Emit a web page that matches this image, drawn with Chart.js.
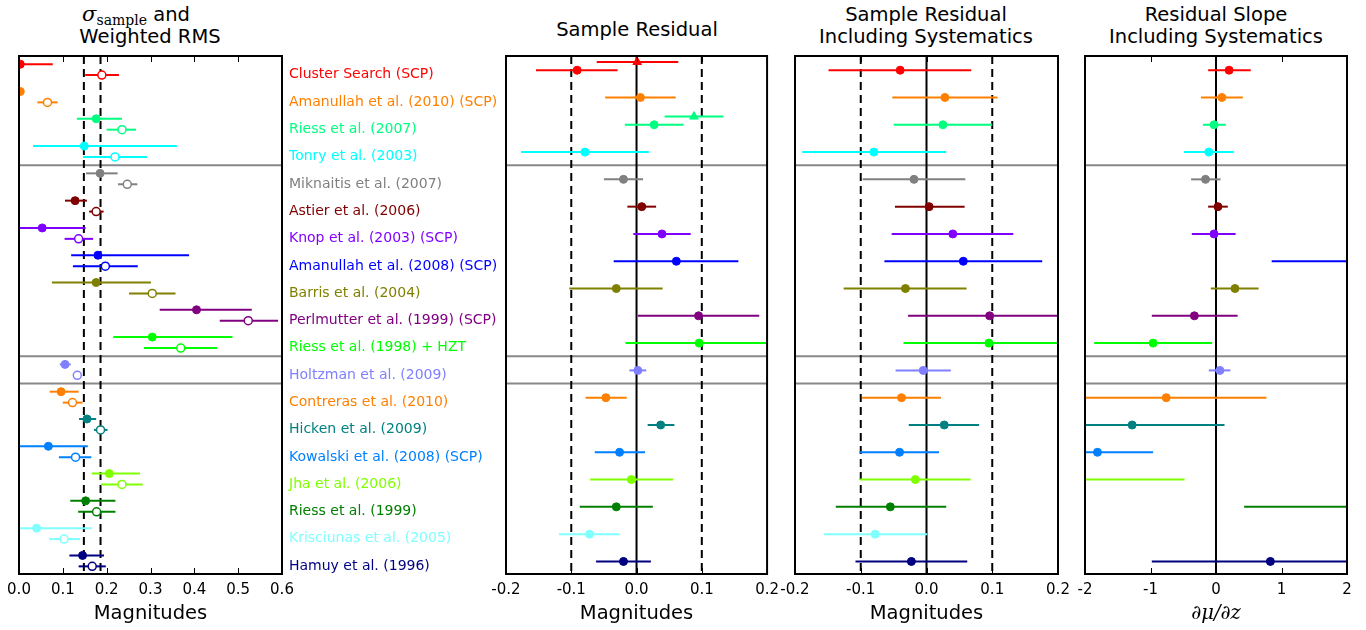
<!DOCTYPE html>
<html>
<head>
<meta charset="utf-8">
<script src="https://cdn.jsdelivr.net/npm/chart.js@4.4.1/dist/chart.umd.min.js"></script>
<style>
  body { margin: 0; background: #fff; width: 1366px; height: 630px; position: relative; overflow: hidden; font-family: 'DejaVu Sans', sans-serif; }
  canvas { position: absolute; top: 0; }
  .ttl { position: absolute; width: 300px; font-size: 19.5px; line-height: 22px; text-align: center; color: #000; white-space: nowrap; }
  .m { font-family: 'DejaVu Serif', serif; font-style: italic; font-size: 21px; }
  .sub { font-family: 'DejaVu Serif', serif; font-size: 14px; position: relative; top: 4px; }
</style>
</head>
<body>
<div class="ttl" style="left:-14px;top:3px"><span class="m">σ</span><span class="sub">sample</span> and</div>
<div class="ttl" style="left:0px;top:26px">Weighted RMS</div>
<div class="ttl" style="left:487px;top:19px">Sample Residual</div>
<div class="ttl" style="left:776px;top:4px">Sample Residual</div>
<div class="ttl" style="left:776px;top:26px">Including Systematics</div>
<div class="ttl" style="left:1066px;top:4px">Residual Slope</div>
<div class="ttl" style="left:1066px;top:26px">Including Systematics</div>

<canvas id="p1" width="510" height="630" style="left:0px"></canvas>
<canvas id="p2" width="310" height="630" style="left:476px"></canvas>
<canvas id="p3" width="310" height="630" style="left:770px"></canvas>
<canvas id="p4" width="306" height="630" style="left:1060px"></canvas>

<script>
// surveys, top to bottom
const surveys = [
  'Cluster Search (SCP)', 'Amanullah et al. (2010) (SCP)', 'Riess et al. (2007)', 'Tonry et al. (2003)',
  'Miknaitis et al. (2007)', 'Astier et al. (2006)', 'Knop et al. (2003) (SCP)', 'Amanullah et al. (2008) (SCP)',
  'Barris et al. (2004)', 'Perlmutter et al. (1999) (SCP)', 'Riess et al. (1998) + HZT',
  'Holtzman et al. (2009)',
  'Contreras et al. (2010)', 'Hicken et al. (2009)', 'Kowalski et al. (2008) (SCP)', 'Jha et al. (2006)',
  'Riess et al. (1999)', 'Krisciunas et al. (2005)', 'Hamuy et al. (1996)'
];
const colors = [
  '#ff0000', '#ff8000', '#00ff80', '#00ffff',
  '#808080', '#800000', '#8000ff', '#0000ff',
  '#808000', '#800080', '#00ff00',
  '#8080ff',
  '#ff8000', '#008080', '#0080ff', '#80ff00',
  '#008000', '#80ffff', '#000080'
];
const separators = [3.7, 10.7, 11.7];

// panel 1: sigma_sample (filled) and weighted RMS (open)
const sigmaVal = [0.003, 0.003, 0.176, 0.149, 0.185, 0.128, 0.053, 0.180, 0.176, 0.405, 0.304, 0.105, 0.096, 0.155, 0.067, 0.206, 0.152, 0.040, 0.145];
const sigmaLo  = [0.000, 0.003, 0.132, 0.032, 0.153, 0.105, -0.02, 0.119, 0.075, 0.321, 0.215, 0.093, 0.070, 0.137, 0.000, 0.166, 0.117, 0.000, 0.115];
const sigmaHi  = [0.077, 0.003, 0.235, 0.360, 0.225, 0.155, 0.152, 0.388, 0.301, 0.531, 0.487, 0.118, 0.136, 0.176, 0.157, 0.276, 0.220, 0.166, 0.194];
const wrmsVal  = [0.189, 0.065, 0.235, 0.219, 0.247, 0.176, 0.136, 0.197, 0.304, 0.523, 0.369, 0.133, 0.122, 0.186, 0.129, 0.235, 0.177, 0.103, 0.167];
const wrmsLo   = [0.151, 0.042, 0.200, 0.146, 0.226, 0.160, 0.104, 0.123, 0.251, 0.458, 0.285, 0.125, 0.100, 0.171, 0.091, 0.187, 0.135, 0.069, 0.136];
const wrmsHi   = [0.228, 0.088, 0.267, 0.292, 0.270, 0.193, 0.169, 0.271, 0.357, 0.591, 0.452, 0.142, 0.145, 0.202, 0.165, 0.282, 0.220, 0.139, 0.198];
const sigmaRefLines = [0.148, 0.186];

// panel 2: sample residual (circles), triangles for two surveys
const residVal = [-0.091, 0.006, 0.027, -0.079, -0.020, 0.008, 0.039, 0.061, -0.031, 0.095, 0.096, 0.002, -0.047, 0.037, -0.026, -0.008, -0.031, -0.072, -0.020];
const residLo  = [-0.154, -0.048, -0.018, -0.177, -0.050, -0.014, -0.005, -0.035, -0.103, 0.002, -0.017, -0.011, -0.078, 0.017, -0.064, -0.071, -0.087, -0.119, -0.062];
const residHi  = [-0.029, 0.060, 0.072, 0.019, 0.010, 0.030, 0.083, 0.156, 0.040, 0.188, 0.209, 0.015, -0.015, 0.058, 0.013, 0.056, 0.025, -0.026, 0.022];
const triVal = [0.001, null, 0.088, null, null, null, null, null, null, null, null, null, null, null, null, null, null, null, null];
const triLo  = [-0.061, null, 0.043, null, null, null, null, null, null, null, null, null, null, null, null, null, null, null, null];
const triHi  = [0.064, null, 0.133, null, null, null, null, null, null, null, null, null, null, null, null, null, null, null, null];

// panel 3: sample residual including systematics
const sysVal = [-0.040, 0.028, 0.025, -0.080, -0.019, 0.004, 0.040, 0.056, -0.032, 0.096, 0.095, -0.005, -0.038, 0.027, -0.041, -0.017, -0.055, -0.078, -0.023];
const sysLo  = [-0.149, -0.052, -0.050, -0.189, -0.097, -0.048, -0.053, -0.064, -0.126, -0.028, -0.035, -0.047, -0.098, -0.027, -0.102, -0.101, -0.138, -0.156, -0.108];
const sysHi  = [0.068, 0.108, 0.100, 0.030, 0.059, 0.058, 0.132, 0.176, 0.061, 0.220, 0.225, 0.037, 0.022, 0.080, 0.019, 0.067, 0.030, 0.001, 0.062];

// panel 4: residual slope including systematics
const slopeVal = [0.20, 0.09, -0.03, -0.11, -0.16, 0.03, -0.03, 3.0, 0.29, -0.33, -0.96, 0.06, -0.76, -1.28, -1.81, -2.6, 2.6, -3.6, 0.83];
const slopeLo  = [-0.12, -0.23, -0.20, -0.49, -0.38, -0.12, -0.37, 0.85, -0.08, -0.98, -1.86, -0.11, -2.29, -2.69, -2.66, -4.7, 0.43, -5.2, -0.98];
const slopeHi  = [0.53, 0.41, 0.15, 0.27, 0.07, 0.18, 0.30, 5.2, 0.65, 0.33, -0.06, 0.22, 0.77, 0.13, -0.96, -0.48, 4.8, -2.05, 2.64];

const sigmaTicks = [0, 0.1, 0.2, 0.3, 0.4, 0.5, 0.6];
const sigmaTickLabels = ['0.0', '0.1', '0.2', '0.3', '0.4', '0.5', '0.6'];
const residTicks = [-0.2, -0.1, 0, 0.1, 0.2];
const residTickLabels = ['-0.2', '-0.1', '0.0', '0.1', '0.2'];
const slopeTicks = [-2, -1, 0, 1, 2];
const slopeTickLabels = ['-2', '-1', '0', '1', '2'];

const Y_MIN = -0.3, Y_MAX = 18.68;

Chart.defaults.font.family = "'DejaVu Sans', sans-serif";
Chart.defaults.color = '#000';

function errBar(lo, hi, y, color) {
  return { data: [{ x: lo, y: y }, { x: hi, y: y }], showLine: true, borderColor: color,
           borderWidth: 2, pointRadius: 0, clip: 0, order: 1 };
}
function vLine(x, dash) {
  return { data: [{ x: x, y: Y_MIN }, { x: x, y: Y_MAX }], showLine: true, borderColor: '#000',
           borderWidth: 2, borderDash: dash, pointRadius: 0, clip: 0, order: 2 };
}
function hLine(y, x0, x1) {
  return { data: [{ x: x0, y: y }, { x: x1, y: y }], showLine: true, borderColor: '#888888',
           borderWidth: 2, pointRadius: 0, clip: 0, order: 2 };
}
// pts: {x, y, color, open, tri}
function markers(pts) {
  return {
    data: pts.map(p => ({ x: p.x, y: p.y })),
    pointStyle: pts.map(p => p.tri ? 'triangle' : 'circle'),
    pointRadius: pts.map(p => p.tri ? 5 : 4),
    pointBackgroundColor: pts.map(p => p.open ? '#ffffff' : p.color),
    pointBorderColor: pts.map(p => p.color),
    pointBorderWidth: pts.map(p => p.open ? 1.5 : 1),
    showLine: false, clip: 0, order: -1
  };
}

const framePlugin = {
  id: 'frame',
  afterDatasetsDraw(chart) {
    const { ctx, chartArea: a, scales: { x } } = chart;
    ctx.save();
    ctx.strokeStyle = '#000';
    ctx.lineWidth = 1;
    x.ticks.forEach(t => {
      const px = Math.round(x.getPixelForValue(t.value)) + 0.5;
      if (px < a.left + 2 || px > a.right - 2) return;
      ctx.beginPath();
      ctx.moveTo(px, a.top); ctx.lineTo(px, a.top + 6);
      ctx.moveTo(px, a.bottom); ctx.lineTo(px, a.bottom - 6);
      ctx.stroke();
    });
    ctx.lineWidth = 2;
    ctx.strokeRect(a.left, a.top, a.right - a.left, a.bottom - a.top);
    ctx.restore();
  }
};

const labelPlugin = {
  id: 'surveyLabels',
  afterDraw(chart) {
    const { ctx, chartArea: a, scales: { y } } = chart;
    ctx.save();
    ctx.font = "14px 'DejaVu Sans'";
    ctx.textBaseline = 'middle';
    ctx.textAlign = 'left';
    surveys.forEach((s, i) => {
      ctx.fillStyle = colors[i];
      ctx.fillText(s, a.right + 7, y.getPixelForValue(i + 0.39));
    });
    ctx.restore();
  }
};

function makePanel(id, datasets, xmin, xmax, ticks, tickLabels, title, titleFont, pad, plugins) {
  return new Chart(document.getElementById(id), {
    type: 'scatter',
    data: { datasets: datasets },
    options: {
      responsive: false, animation: false, events: [],
      layout: { padding: { left: pad[0], right: pad[1], top: 56, bottom: 0 } },
      plugins: { legend: { display: false }, tooltip: { enabled: false } },
      scales: {
        x: {
          type: 'linear', min: xmin, max: xmax,
          afterBuildTicks: s => { s.ticks = ticks.map(v => ({ value: v })); },
          afterFit: s => { s.height = 56; },
          ticks: { callback: (v, i) => tickLabels[i], font: { size: 15 }, color: '#000', padding: 7,
                   maxRotation: 0, autoSkip: false },
          grid: { display: false, drawTicks: false },
          border: { display: false },
          title: { display: true, text: title, font: titleFont, color: '#000', padding: { top: 0, bottom: 4 } }
        },
        y: { type: 'linear', min: Y_MIN, max: Y_MAX, reverse: true, display: false }
      }
    },
    plugins: [framePlugin].concat(plugins || [])
  });
}

const idx = surveys.map((s, i) => i);

// panel 1
const p1 = [];
sigmaRefLines.forEach(v => p1.push(vLine(v, [8, 5])));
separators.forEach(s => p1.push(hLine(s, -1, 1)));
idx.forEach(i => {
  p1.push(errBar(sigmaLo[i], sigmaHi[i], i, colors[i]));
  p1.push(errBar(wrmsLo[i], wrmsHi[i], i + 0.4, colors[i]));
});
p1.push(markers(idx.map(i => ({ x: sigmaVal[i], y: i, color: colors[i] }))
  .concat(idx.map(i => ({ x: wrmsVal[i], y: i + 0.4, color: colors[i], open: true })))));
makePanel('p1', p1, 0, 0.6, sigmaTicks, sigmaTickLabels, 'Magnitudes', { size: 19.5 }, [19, 228], [labelPlugin]);

// panel 2
const p2 = [vLine(-0.1, [8, 5]), vLine(0.1, [8, 5]), vLine(0, [])];
separators.forEach(s => p2.push(hLine(s, -1, 1)));
const p2pts = [];
idx.forEach(i => {
  p2.push(errBar(residLo[i], residHi[i], i + 0.22, colors[i]));
  p2pts.push({ x: residVal[i], y: i + 0.22, color: colors[i] });
  if (triVal[i] !== null) {
    p2.push(errBar(triLo[i], triHi[i], i - 0.08, colors[i]));
    p2pts.push({ x: triVal[i], y: i - 0.08, color: colors[i], tri: true });
  }
});
p2.push(markers(p2pts));
makePanel('p2', p2, -0.2, 0.2, residTicks, residTickLabels, 'Magnitudes', { size: 19.5 }, [30, 18]);

// panel 3
const p3 = [vLine(-0.1, [8, 5]), vLine(0.1, [8, 5]), vLine(0, [])];
separators.forEach(s => p3.push(hLine(s, -1, 1)));
idx.forEach(i => p3.push(errBar(sysLo[i], sysHi[i], i + 0.22, colors[i])));
p3.push(markers(idx.map(i => ({ x: sysVal[i], y: i + 0.22, color: colors[i] }))));
makePanel('p3', p3, -0.2, 0.2, residTicks, residTickLabels, 'Magnitudes', { size: 19.5 }, [25, 22]);

// panel 4
const p4 = [vLine(0, [])];
separators.forEach(s => p4.push(hLine(s, -10, 10)));
idx.forEach(i => p4.push(errBar(slopeLo[i], slopeHi[i], i + 0.22, colors[i])));
p4.push(markers(idx.map(i => ({ x: slopeVal[i], y: i + 0.22, color: colors[i] }))));
makePanel('p4', p4, -2, 2, slopeTicks, slopeTickLabels, '∂μ/∂z',
  { size: 19.5, family: "'DejaVu Serif', serif", style: 'italic' }, [25, 19]);
</script>
</body>
</html>
